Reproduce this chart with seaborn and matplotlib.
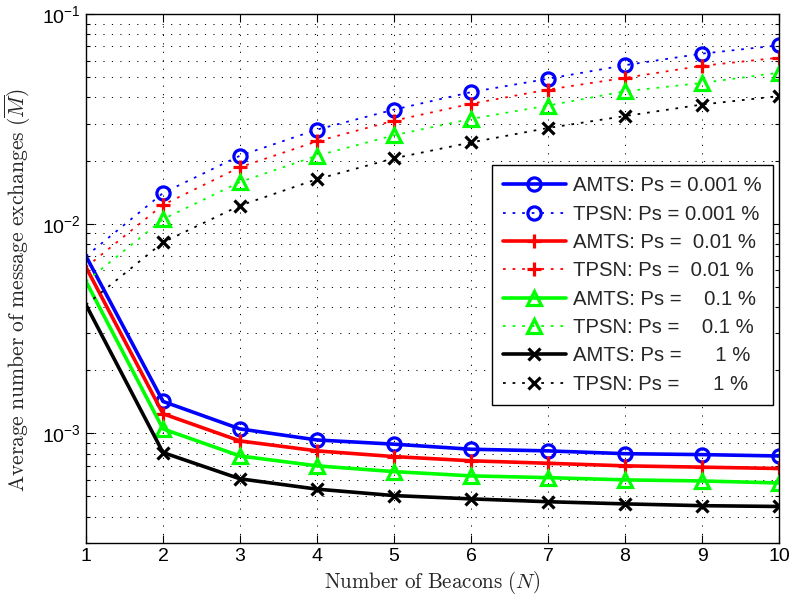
import matplotlib
matplotlib.use("Agg")
import matplotlib.pyplot as plt
import seaborn as sns
import numpy as np
import pandas as pd
from matplotlib.ticker import LogLocator, FixedLocator

# Number of beacons
beacons = [1, 2, 3, 4, 5, 6, 7, 8, 9, 10]

# Average number of message exchanges, AMTS scheme
amts_0001 = [7.0e-3, 1.42e-3, 1.05e-3, 0.93e-3, 0.888e-3, 0.84e-3, 0.825e-3, 0.80e-3, 0.792e-3, 0.78e-3]
amts_001 = [6.2e-3, 1.24e-3, 0.92e-3, 0.825e-3, 0.775e-3, 0.74e-3, 0.72e-3, 0.70e-3, 0.69e-3, 0.68e-3]
amts_01 = [5.3e-3, 1.05e-3, 0.78e-3, 0.70e-3, 0.657e-3, 0.627e-3, 0.615e-3, 0.60e-3, 0.593e-3, 0.58e-3]
amts_1 = [4.1e-3, 0.81e-3, 0.607e-3, 0.542e-3, 0.505e-3, 0.487e-3, 0.472e-3, 0.461e-3, 0.452e-3, 0.448e-3]

# Average number of message exchanges, TPSN scheme
tpsn_0001 = [7.0e-3, 1.40e-2, 2.11e-2, 2.81e-2, 3.50e-2, 4.24e-2, 4.91e-2, 5.70e-2, 6.47e-2, 7.09e-2]
tpsn_001 = [6.2e-3, 1.23e-2, 1.86e-2, 2.47e-2, 3.10e-2, 3.73e-2, 4.36e-2, 4.96e-2, 5.66e-2, 6.19e-2]
tpsn_01 = [5.3e-3, 1.05e-2, 1.58e-2, 2.11e-2, 2.64e-2, 3.16e-2, 3.66e-2, 4.28e-2, 4.69e-2, 5.25e-2]
tpsn_1 = [4.1e-3, 0.815e-2, 1.22e-2, 1.63e-2, 2.05e-2, 2.44e-2, 2.86e-2, 3.26e-2, 3.70e-2, 4.06e-2]

series_labels = [
    "AMTS: Ps = 0.001 %",
    "TPSN: Ps = 0.001 %",
    "AMTS: Ps =  0.01 %",
    "TPSN: Ps =  0.01 %",
    "AMTS: Ps =    0.1 %",
    "TPSN: Ps =    0.1 %",
    "AMTS: Ps =      1 %",
    "TPSN: Ps =      1 %",
]
series_values = [amts_0001, tpsn_0001, amts_001, tpsn_001, amts_01, tpsn_01, amts_1, tpsn_1]
series_colors = ["#0000ff", "#0000ff", "#ff0000", "#ff0000", "#00ff00", "#00ff00", "#000000", "#000000"]
series_markers = ["o", "o", "+", "+", "^", "^", "x", "x"]

sns.set_theme(style="white")
plt.rcParams["font.family"] = ["Liberation Sans", "DejaVu Sans"]
plt.rcParams["mathtext.fontset"] = "cm"

fig = plt.figure(figsize=(7.9, 6.04), dpi=100)
ax = fig.add_axes([86 / 790, 1 - 543 / 604, (779 - 86) / 790, (543 - 14) / 604])

marker_sizes = {"o": 9.5, "+": 10, "^": 10.5, "x": 8.5}
for label, vals, color, marker in zip(series_labels, series_values, series_colors, series_markers):
    df = pd.DataFrame({"N": beacons, "M": vals})
    solid = label.startswith("AMTS")
    sns.lineplot(
        data=df, x="N", y="M", ax=ax, label=label,
        color=color, marker=marker, markersize=marker_sizes[marker],
        mfc="none", mec=color, mew=2.3,
        lw=2.6 if solid else 1.3,
        linestyle="-" if solid else (0, (1.5, 3.8)),
        markevery=slice(1, None),
    )

ax.set_yscale("log")
ax.set_xlim(1, 10)
ax.set_ylim(3e-4, 1e-1)
ax.xaxis.set_major_locator(FixedLocator(beacons))
ax.yaxis.set_major_locator(LogLocator(base=10, numticks=10))
ax.yaxis.set_minor_locator(LogLocator(base=10, subs=np.arange(2, 10), numticks=20))

grid_style = dict(color="black", linestyle=(0, (1.2, 7.5)), linewidth=0.7)
ax.grid(True, which="major", axis="both", **grid_style)
ax.grid(True, which="minor", axis="y", **grid_style)

ax.tick_params(which="both", direction="in", top=True, right=True, bottom=True, left=True,
               colors="black", labelsize=14)
ax.tick_params(which="major", length=6, width=0.8)
ax.tick_params(which="minor", length=3, width=0.8)
for sp in ax.spines.values():
    sp.set_color("black")
    sp.set_linewidth(1.0)

ax.set_xlabel(r"$\mathrm{Number\ of\ Beacons\ (}N\mathrm{)}$", fontsize=15.1, labelpad=3)
ax.set_ylabel(r"$\mathrm{Average\ number\ of\ message\ exchanges\ (}\overline{M}\mathrm{)}$",
              fontsize=15.5)
ax.yaxis.set_label_coords(-0.0765, 0.478)

leg = ax.legend(loc="lower right", bbox_to_anchor=(0.991, 0.261), borderaxespad=0,
                fontsize=14.6, frameon=True, fancybox=False, edgecolor="black",
                framealpha=1, handlelength=3.1, labelspacing=0.46, borderpad=0.55,
                handletextpad=0.35)
leg.get_frame().set_linewidth(1.0)

fig.savefig("out.png", dpi=100)
